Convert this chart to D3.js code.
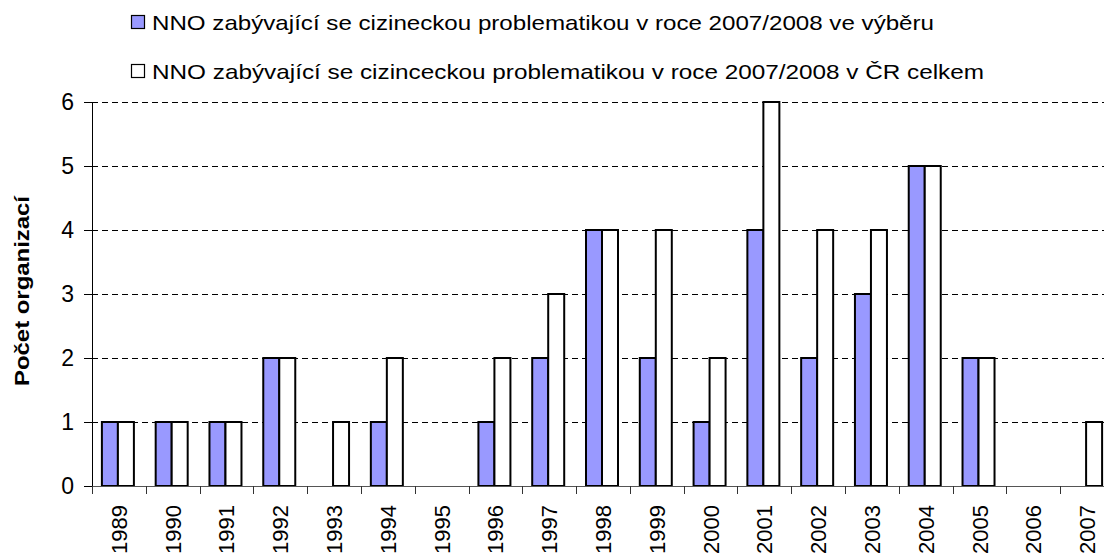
<!DOCTYPE html>
<html>
<head>
<meta charset="utf-8">
<script src="https://cdn.jsdelivr.net/npm/d3@7"></script>
<style>
  body { margin: 0; background: #fff; }
  text { font-family: "Liberation Sans", Arial, sans-serif; }
</style>
</head>
<body>
<div id="app"></div>
<script>
var years = ["1989", "1990", "1991", "1992", "1993", "1994", "1995", "1996", "1997", "1998",
             "1999", "2000", "2001", "2002", "2003", "2004", "2005", "2006", "2007"];
var vyber = [1, 1, 1, 2, 0, 1, 0, 1, 2, 4, 2, 1, 4, 2, 3, 5, 2, 0, 0];
var celkem = [1, 1, 1, 2, 1, 2, 0, 2, 3, 4, 4, 2, 6, 4, 4, 5, 2, 0, 1];
var yTicks = [0, 1, 2, 3, 4, 5, 6];
var seriesNames = [
    "NNO zabývající se cizineckou problematikou v roce 2007/2008 ve výběru",
    "NNO zabývající se cizinceckou problematikou v roce 2007/2008 v ČR celkem"
];
var seriesColors = ["#9999ff", "#ffffff"];

var chartW = 1104;
var chartH = 557;
var plotL = 92;
var plotR = 1114;
var plotT = 102;
var plotB = 486;
var barW = 16;

var svg = d3.select("#app")
    .append("svg")
    .attr("width", chartW)
    .attr("height", chartH);

var x = d3.scaleBand().domain(years).range([plotL, plotR]);
var y = d3.scaleLinear().domain([0, 6]).range([plotB, plotT]);

//GRIDLINES
svg.selectAll(".grid")
    .data(yTicks.filter(function (d) { return d > 0; }))
    .enter()
    .append("line")
    .attr("x1", plotL)
    .attr("x2", chartW)
    .attr("y1", function (d) { return Math.round(y(d)) + 0.5; })
    .attr("y2", function (d) { return Math.round(y(d)) + 0.5; })
    .style("stroke", "#000")
    .style("stroke-width", 1)
    .style("stroke-dasharray", "6,4");

//BARS
var rows = years.map(function (yr, i) {
    return {year: yr, vals: [vyber[i], celkem[i]]};
});
rows.forEach(function (row) {
    row.vals.forEach(function (v, s) {
        if (v <= 0) return;
        var cx = x(row.year) + x.bandwidth() / 2 - 1;
        svg.append("rect")
            .attr("x", cx - barW + s * barW)
            .attr("y", y(v))
            .attr("width", barW)
            .attr("height", y(0) - y(v))
            .style("fill", seriesColors[s])
            .style("stroke", "#000")
            .style("stroke-width", 2);
    });
});

//AXES
var yAxis = svg.append("g")
    .attr("transform", "translate(" + plotL + ",0)")
    .call(d3.axisLeft(y).tickValues(yTicks).tickFormat(d3.format("d")).tickSize(8).tickPadding(10));
yAxis.select(".domain").attr("d", "M0.5," + plotT + "V" + plotB).style("stroke", "#000");
yAxis.selectAll(".tick line").style("stroke", "#000");
yAxis.selectAll("text")
    .style("font-size", "23px")
    .style("font-family", "'Liberation Sans', Arial, sans-serif")
    .style("fill", "#000");

svg.append("line")
    .attr("x1", plotL)
    .attr("x2", chartW)
    .attr("y1", plotB + 0.5)
    .attr("y2", plotB + 0.5)
    .style("stroke", "#555")
    .style("stroke-width", 1);

svg.selectAll(".xtick")
    .data(years)
    .enter()
    .append("line")
    .attr("x1", function (d) { return Math.round(x(d)) + 0.5; })
    .attr("x2", function (d) { return Math.round(x(d)) + 0.5; })
    .attr("y1", plotB)
    .attr("y2", plotB + 8)
    .style("stroke", "#333");

svg.selectAll(".xlabel")
    .data(years)
    .enter()
    .append("text")
    .attr("transform", function (d) {
        return "translate(" + (x(d) + x.bandwidth() / 2 + 8) + "," + (plotB + 19) + ") rotate(-90)";
    })
    .attr("text-anchor", "end")
    .style("font-size", "22px")
    .text(function (d) { return d; });

//AXIS TITLE
svg.append("text")
    .attr("transform", "translate(" + 29 + "," + 291 + ") rotate(-90)")
    .attr("text-anchor", "middle")
    .attr("textLength", 190)
    .attr("lengthAdjust", "spacingAndGlyphs")
    .style("font-size", "21px")
    .style("font-weight", "bold")
    .text("Počet organizací");

//LEGEND
var legend = svg.selectAll(".legend")
    .data(seriesNames)
    .enter()
    .append("g")
    .attr("transform", function (d, i) { return "translate(131," + (22 + i * 49) + ")"; });
legend.append("rect")
    .attr("x", 0.5)
    .attr("y", -6.5)
    .attr("width", 13)
    .attr("height", 13)
    .style("fill", function (d, i) { return seriesColors[i]; })
    .style("stroke", "#000")
    .style("stroke-width", 1.2);
legend.append("text")
    .attr("x", 21)
    .attr("y", 8)
    .attr("textLength", function (d, i) { return i === 0 ? 782 : 832; })
    .attr("lengthAdjust", "spacingAndGlyphs")
    .style("font-size", "21px")
    .text(function (d) { return d; });
</script>
</body>
</html>
